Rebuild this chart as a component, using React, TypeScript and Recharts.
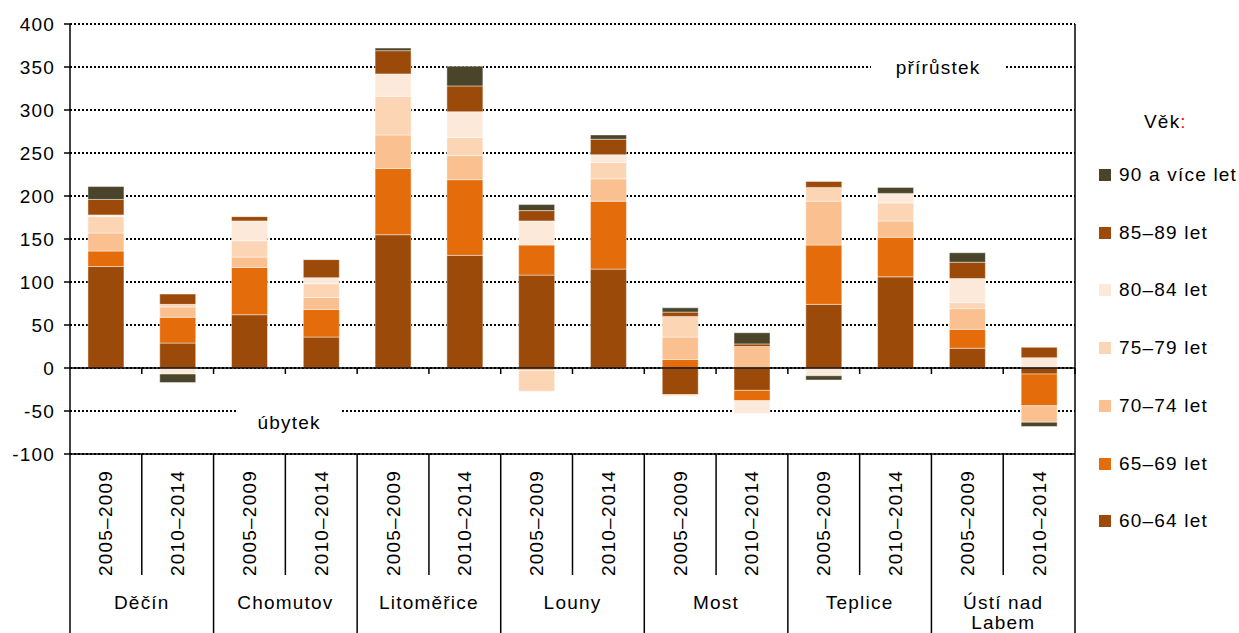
import React from 'react';
import { BarChart, Bar, XAxis, YAxis, CartesianGrid, ReferenceLine } from 'recharts';

const districts = ['Děčín', 'Chomutov', 'Litoměřice', 'Louny', 'Most', 'Teplice', 'Ústí nad\nLabem'];
const periods = ['2005–2009', '2010–2014'];
const yTicks = [-100, -50, 0, 50, 100, 150, 200, 250, 300, 350, 400];

// order: each district, 2005–2009 then 2010–2014
const age60_64 = [118, 29, 62, 36, 155, 131, 108, 115, -31, -26, 74, 106, 23, -7];
const age65_69 = [18, 30, 55, 32, 77, 88, 35, 79, 10, -12, 69, 46, 22, -37];
const age70_74 = [21, 12, 12, 14, 39, 28, -3, 26, 26, 25, 51, 19, 24, -19];
const age75_79 = [19, 3, 19, 16, 45, 21, -24, 19, 24, 0, 16, 21, 7, 0];
const age80_84 = [2, -7, 23, 7, 26, 30, 28, 9, -2, -15, -9, 11, 28, 12];
const age85_89 = [18, 12, 5, 21, 27, 30, 12, 18, 5, 3, 7, 0, 19, 12];
const age90 = [15, -10, 0, 0, 3, 23, 7, 5, 5, 13, -5, 7, 11, -5];

const series = [
  { key: 'a60', name: '60–64 let', values: age60_64, color: '#9C4A09' },
  { key: 'a65', name: '65–69 let', values: age65_69, color: '#E46C0A' },
  { key: 'a70', name: '70–74 let', values: age70_74, color: '#FAC090' },
  { key: 'a75', name: '75–79 let', values: age75_79, color: '#FCD5B5' },
  { key: 'a80', name: '80–84 let', values: age80_84, color: '#FDE9D9' },
  { key: 'a85', name: '85–89 let', values: age85_89, color: '#9C4A09' },
  { key: 'a90', name: '90 a více let', values: age90, color: '#4A452A' },
];

const rows: any[] = [];
districts.forEach((d, di) => {
  periods.forEach((p, pi) => {
    const i = di * 2 + pi;
    const row: any = { id: `${d}|${p}`, district: d, period: p };
    series.forEach((s) => (row[s.key] = s.values[i]));
    rows.push(row);
  });
});

const W = 1239;
const H = 633;
const M = { top: 24, right: 163, bottom: 0, left: 10 };
const Y_W = 60;
const X_H = 179;
const FONT = '"Liberation Sans", Arial, sans-serif';
const FS = 19;
const LS = 1.2;

const plotL = M.left + Y_W;
const plotR = W - M.right - 1;
const plotT = M.top;
const plotB = H - X_H;
const band = (plotR - plotL) / rows.length;
const zeroY = plotT + ((plotB - plotT) * 400) / 500;

const CategoryTick = (props: any) => {
  const { x, index } = props;
  const row = rows[index];
  const left = x - band / 2;
  const first = index % 2 === 0;
  const last = index === rows.length - 1;
  const lines = row.district.split('\n');
  return (
    <g>
      <line x1={left} x2={left} y1={plotB} y2={first ? H : 575} stroke="#000" strokeWidth={1.5} />
      {last && <line x1={x + band / 2} x2={x + band / 2} y1={plotB} y2={H} stroke="#000" strokeWidth={1.5} />}
      {index > 0 && <line x1={left} x2={left} y1={zeroY} y2={zeroY + 6} stroke="#000" strokeWidth={1.5} />}
      {last && <line x1={x + band / 2} x2={x + band / 2} y1={zeroY} y2={zeroY + 6} stroke="#000" strokeWidth={1.5} />}
      <text
        x={x}
        y={523}
        transform={`rotate(-90, ${x}, 523)`}
        textAnchor="middle"
        dominantBaseline="central"
        fontFamily={FONT}
        fontSize={FS}
        letterSpacing={LS}
        fill="#000"
      >
        {row.period}
      </text>
      {!first &&
        lines.map((t: string, k: number) => (
          <text
            key={k}
            x={left}
            y={602 + k * 20}
            textAnchor="middle"
            dominantBaseline="central"
            fontFamily={FONT}
            fontSize={FS}
            letterSpacing={LS}
            fill="#000"
          >
            {t}
          </text>
        ))}
    </g>
  );
};

const GapLabel = (props: any) => {
  const { viewBox, text, fx, gap, dy } = props;
  const cx = viewBox.x + viewBox.width * fx;
  const cy = viewBox.y;
  return (
    <g>
      <rect x={cx - gap / 2} y={cy - 3} width={gap} height={6} fill="#fff" />
      <text
        x={cx}
        y={cy + dy}
        textAnchor="middle"
        dominantBaseline="central"
        fontFamily={FONT}
        fontSize={FS}
        letterSpacing={LS}
        fill="#000"
      >
        {text}
      </text>
    </g>
  );
};

const legendOrder = [...series].reverse();

const App: React.FC = () => {
  return (
    <div style={{ position: 'absolute', left: 0, top: 0, width: W, height: H, background: '#fff' }}>
      <BarChart
        width={W}
        height={H}
        data={rows}
        margin={M}
        stackOffset="sign"
        barCategoryGap="25%"
      >
        <CartesianGrid vertical={false} stroke="#000" strokeDasharray="2 2" strokeWidth={2} />
        <XAxis
          dataKey="id"
          height={X_H}
          interval={0}
          tickLine={false}
          axisLine={{ stroke: '#000', strokeWidth: 1.5 }}
          tick={<CategoryTick />}
        />
        <YAxis
          width={Y_W}
          domain={[-100, 400]}
          ticks={yTicks}
          interval={0}
          tickSize={6}
          tickMargin={9}
          tickLine={{ stroke: '#000', strokeWidth: 1.5 }}
          axisLine={{ stroke: '#000', strokeWidth: 1.5 }}
          tick={{ fill: '#000', fontSize: FS, fontFamily: FONT, letterSpacing: LS }}
        />
        <YAxis
          yAxisId="right"
          orientation="right"
          width={1}
          domain={[-100, 400]}
          tick={false}
          tickLine={false}
          axisLine={{ stroke: '#000', strokeWidth: 1.5 }}
        />
        {series.map((s) => (
          <Bar
            key={s.key}
            dataKey={s.key}
            name={s.name}
            stackId="age"
            fill={s.color}
            stroke="#ffffff"
            strokeOpacity={0.45}
            strokeWidth={1}
            isAnimationActive={false}
          />
        ))}
        <ReferenceLine y={0} stroke="#000" strokeWidth={1.5} />
        <ReferenceLine
          y={350}
          stroke="none"
          label={<GapLabel text="přírůstek" fx={0.8637} gap={134} dy={0} />}
        />
        <ReferenceLine
          y={-50}
          stroke="none"
          label={<GapLabel text="úbytek" fx={0.218} gap={105} dy={11} />}
        />
      </BarChart>
      <div style={{ position: 'absolute', left: 1090, top: 100, fontFamily: FONT, fontSize: FS, letterSpacing: LS, color: '#000' }}>
        <div style={{ position: 'absolute', left: 54, top: 11, whiteSpace: 'nowrap' }}>
          Věk<span style={{ color: '#FF0000' }}>:</span>
        </div>
        {legendOrder.map((s, i) => (
          <div
            key={s.key}
            style={{ position: 'absolute', left: 9, top: 75 + i * 57.7 - 12, height: 24, display: 'flex', alignItems: 'center', whiteSpace: 'nowrap' }}
          >
            <span style={{ display: 'inline-block', width: 12, height: 12, background: s.color, marginRight: 8 }} />
            <span>{s.name}</span>
          </div>
        ))}
      </div>
    </div>
  );
};

export default App;
